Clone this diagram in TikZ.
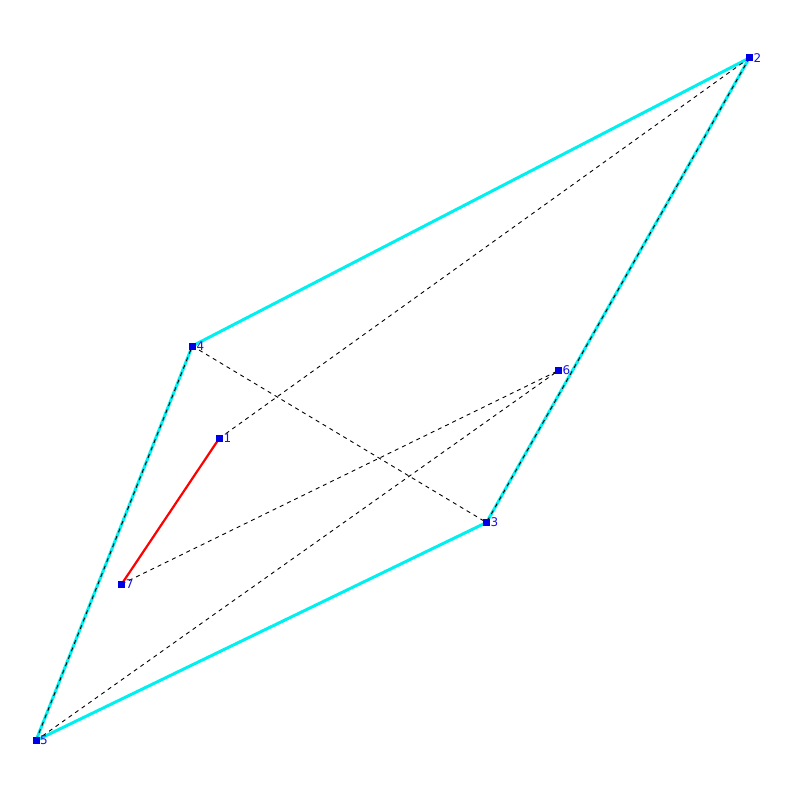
\documentclass[tikz,border=0pt]{standalone}
\usepackage{fontspec}
\setmainfont{DejaVu Sans}
\begin{document}
\begin{tikzpicture}[x=1pt,y=-1pt,
  pt/.style={fill={rgb,255:red,0;green,0;blue,230}, draw=none, minimum size=7pt, inner sep=0pt, outer sep=0pt, shape=rectangle},
  lbl/.style={text={rgb,255:red,20;green,20;blue,230}, font=\fontsize{12}{12}\selectfont, inner sep=0pt, anchor=west},
  cy/.style={draw={rgb,255:red,0;green,240;blue,240}, line width=3pt},
  dsh/.style={draw=black, line width=0.9pt, dash pattern=on 4pt off 4pt},
  rd/.style={draw=red, line width=2.2pt}]
\useasboundingbox (0,0) rectangle (800,800);
\coordinate (p1) at (219.3,438.3);
\coordinate (p2) at (749.3,58);
\coordinate (p3) at (486.5,522.5);
\coordinate (p4) at (192.3,346);
\coordinate (p5) at (36,740.5);
\coordinate (p6) at (558.5,370.5);
\coordinate (p7) at (121.7,584);
\draw[cy] (p4) -- (p2);
\draw[cy] (p2) -- (p3);
\draw[cy] (p3) -- (p5);
\draw[cy] (p5) -- (p4);
\draw[dsh] (p1) -- (p2);
\draw[dsh] (p4) -- (p3);
\draw[dsh] (p7) -- (p6);
\draw[dsh] (p5) -- (p6);
\draw[dsh] (p2) -- (p3);
\draw[dsh] (p5) -- (p4);
\draw[rd] (p1) -- (p7);
\foreach \i in {1,...,7} {
  \node[pt] (n\i) at (p\i) {};
  \node[lbl] (l\i) at ([xshift=4pt]p\i) {\i};
}
\end{tikzpicture}
\end{document}
